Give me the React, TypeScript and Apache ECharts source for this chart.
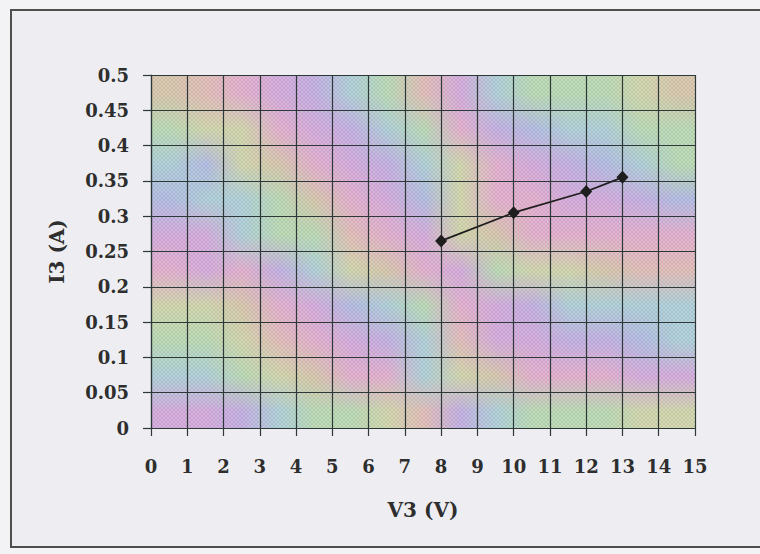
import React, { useEffect, useRef } from "react";
import * as echarts from "echarts";

// Measured operating points of branch 3
const voltage = [8, 10, 12, 13]; // V3 (V)
const current = [0.265, 0.305, 0.335, 0.355]; // I3 (A)

const xTitle = "V3 (V)";
const yTitle = "I3 (A)";

// Pastel colour field for the plot background (one letter per grid cell)
const PAL: Record<string, string> = {
  T: "#dccdb0",
  Y: "#d6dcb0",
  G: "#bfe0b8",
  C: "#b4d6dc",
  B: "#b8c2e6",
  V: "#c8b6e6",
  M: "#d9b2e0",
  P: "#e8b6d2",
  R: "#e6c4bc",
};
const FIELD = [
  "TRPMVCGRMCGGGYT",
  "GYYPMVCGPVBCCGG",
  "CBYTPMVCYPMVBCG",
  "BCCGTPMBYPPMMVB",
  "MMCGGRPMYTPPPPP",
  "PMPVCYTPMGYYTRR",
  "YYTPMBCGPMVCCCC",
  "GGYRPMVCRMMVVBC",
  "CCGYTPPCYTPPPMM",
  "MMVCGGYRVCGGGYY",
];

const GRID = { left: 151, top: 75, right: 65, bottom: 126 };
const W = 760;
const H = 554;
const PW = W - GRID.left - GRID.right;
const PH = H - GRID.top - GRID.bottom;

function buildField(w: number, h: number): string {
  const cols = FIELD[0].length;
  const rows = FIELD.length;
  const small = document.createElement("canvas");
  small.width = cols;
  small.height = rows;
  const sctx = small.getContext("2d")!;
  FIELD.forEach((row, r) =>
    row.split("").forEach((k, c) => {
      sctx.fillStyle = PAL[k];
      sctx.fillRect(c, r, 1, 1);
    })
  );
  const big = document.createElement("canvas");
  big.width = w;
  big.height = h;
  const ctx = big.getContext("2d")!;
  ctx.imageSmoothingEnabled = true;
  ctx.drawImage(small, 0, 0, w, h);
  // halftone dots
  ctx.fillStyle = "rgba(90,70,115,0.14)";
  for (let y = 0; y < h; y += 2) {
    const off = (y / 2) % 2 === 0 ? 0 : 2;
    for (let x = off; x < w; x += 4) ctx.fillRect(x, y, 2, 2);
  }
  return big.toDataURL();
}

const FONT = "'DejaVu Serif', 'Liberation Serif', serif";
const INK = "#2e2e2e";
const RULE = "#2f3838";

export default function App() {
  const ref = useRef<HTMLDivElement>(null);

  useEffect(() => {
    if (!ref.current) return;
    const chart = echarts.init(ref.current, null, { renderer: "svg" });
    const bg = buildField(PW, PH);

    const tickText = {
      fontFamily: FONT,
      fontWeight: "bold" as const,
      fontSize: 18,
      color: INK,
    };
    const titleText = { ...tickText, fontSize: 20 };

    chart.setOption({
      animation: false,
      backgroundColor: "#f3f3f6",
      graphic: [
        {
          type: "rect",
          z: -21,
          shape: { x: 11, y: 10, width: W, height: 537 },
          style: { fill: "#eeeef2" },
          silent: true,
        },
        {
          // open frame: top, left and bottom edges only
          type: "polyline",
          z: -20,
          shape: {
            points: [
              [W + 5, 10],
              [11, 10],
              [11, 547],
              [W + 5, 547],
            ],
          },
          style: { fill: null, stroke: "#4e4e4e", lineWidth: 2 },
          silent: true,
        },
        {
          type: "image",
          z: -10,
          x: GRID.left,
          y: GRID.top,
          style: { image: bg, width: PW, height: PH },
          silent: true,
        },
      ],
      grid: { ...GRID, containLabel: false },
      xAxis: {
        type: "value",
        min: 0,
        max: 15,
        interval: 1,
        name: xTitle,
        nameLocation: "middle",
        nameGap: 72,
        nameTextStyle: titleText,
        axisLine: { show: true, lineStyle: { color: RULE, width: 1.2 } },
        axisTick: { show: true, length: 8, lineStyle: { color: RULE, width: 1.2 } },
        axisLabel: { ...tickText, margin: 29 },
        splitLine: { show: true, lineStyle: { color: RULE, width: 1.2 } },
      },
      yAxis: {
        type: "value",
        min: 0,
        max: 0.5,
        interval: 0.05,
        name: yTitle,
        nameLocation: "middle",
        nameGap: 84,
        nameTextStyle: titleText,
        axisLine: { show: true, lineStyle: { color: RULE, width: 1.2 } },
        axisTick: { show: true, length: 8, lineStyle: { color: RULE, width: 1.2 } },
        axisLabel: {
          ...tickText,
          margin: 22,
          formatter: (v: number) => String(+v.toFixed(2)),
        },
        splitLine: { show: true, lineStyle: { color: RULE, width: 1.2 } },
      },
      series: [
        {
          type: "line",
          data: voltage.map((v, i) => [v, current[i]]),
          symbol: "diamond",
          symbolSize: [12, 13],
          itemStyle: { color: "#1e1e1e" },
          lineStyle: { color: "#1e1e1e", width: 1.8 },
        },
      ],
    });

    return () => chart.dispose();
  }, []);

  return (
    <div
      ref={ref}
      style={{ position: "fixed", left: 0, top: 0, width: W, height: H }}
    />
  );
}
